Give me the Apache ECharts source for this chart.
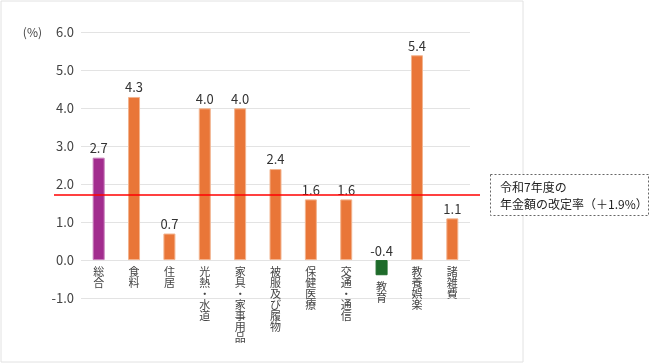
<!DOCTYPE html>
<html><head><meta charset="utf-8">
<script src="https://cdn.jsdelivr.net/npm/echarts@6/dist/echarts.min.js"></script>
<style>html,body{margin:0;padding:0;background:#fff}#c{width:650px;height:363px}</style>
</head><body><div id="c"></div>
<script>
const categories = ['総合','食料','住居','光熱・水道','家具・家事用品','被服及び履物','保健医療','交通・通信','教育','教養娯楽','諸雑費'];
const values = [2.7, 4.3, 0.7, 4.0, 4.0, 2.4, 1.6, 1.6, -0.4, 5.4, 1.1];
const barColors = ['#A22C8E','#E97638','#E97638','#E97638','#E97638','#E97638','#E97638','#E97638','#1E6B2A','#E97638','#E97638'];
const borderColors = ['#C77DBA','#F3B48F','#F3B48F','#F3B48F','#F3B48F','#F3B48F','#F3B48F','#F3B48F','#1E6B2A','#F3B48F','#F3B48F'];
const yTicks = {min: -1, max: 6, interval: 1};
const refLineValue = 1.73;
const noteLines = ['令和7年度の', '年金額の改定率（＋1.9%）'];
const FONT = '"Noto Sans CJK JP", "Noto Sans", sans-serif';

const chart = echarts.init(document.getElementById('c'));
chart.setOption({
  animation: false,
  grid: {left: 81, right: 180, top: 32.5, bottom: 65, containLabel: false},
  xAxis: {
    type: 'category', data: categories,
    axisLine: {show: false}, axisTick: {show: false}, axisLabel: {show: false}
  },
  yAxis: {
    type: 'value', min: yTicks.min, max: yTicks.max, interval: yTicks.interval,
    name: '(%)', nameLocation: 'end', nameGap: 0,
    nameTextStyle: {align: 'right', verticalAlign: 'middle', padding: [0, 39, 0, 0], color: '#444', fontSize: 12, fontFamily: FONT},
    axisLine: {show: false}, axisTick: {show: false},
    axisLabel: {formatter: v => v.toFixed(1), color: '#444', fontSize: 13, margin: 7, fontFamily: FONT},
    splitLine: {lineStyle: {color: '#E3E3E3', width: 1}}
  },
  series: [
    {
      type: 'bar', barWidth: 12,
      data: values.map((v, i) => ({value: v, itemStyle: {color: barColors[i], borderColor: borderColors[i], borderWidth: 1}})),
      label: {show: true, position: 'top', distance: 3, formatter: p => p.value.toFixed(1), color: '#333', fontSize: 13, fontFamily: FONT},
      markLine: {
        silent: true, symbol: 'none', label: {show: false},
        lineStyle: {color: '#FF0000', width: 1.5, type: 'solid'},
        data: [[{x: 54, yAxis: refLineValue}, {x: 480, yAxis: refLineValue}]]
      },
      z: 2
    },
    {
      type: 'bar', barWidth: 12, barGap: '-100%',
      data: values,
      itemStyle: {color: 'rgba(0,0,0,0)'},
      label: {show: true, position: 'bottom', distance: 6,
        formatter: (p) => categories[p.dataIndex].split('').join('\n'),
        color: '#444', fontSize: 11, lineHeight: 11, fontFamily: FONT},
      silent: true, z: 1
    }
  ],
  graphic: [
    {type: 'rect', shape: {x: 1, y: 1, width: 522, height: 361}, style: {fill: 'none', stroke: '#E2E2E2', lineWidth: 1}, silent: true},
    {type: 'rect', shape: {x: 490.5, y: 174.5, width: 158, height: 41}, style: {fill: '#fff', stroke: '#666', lineWidth: 1, lineDash: [2, 2]}, silent: true},
    {type: 'text', x: 500, y: 179, style: {text: noteLines.join('\n'), fill: '#222', font: '12px ' + FONT, lineHeight: 17}, silent: true}
  ]
});
</script></body></html>
